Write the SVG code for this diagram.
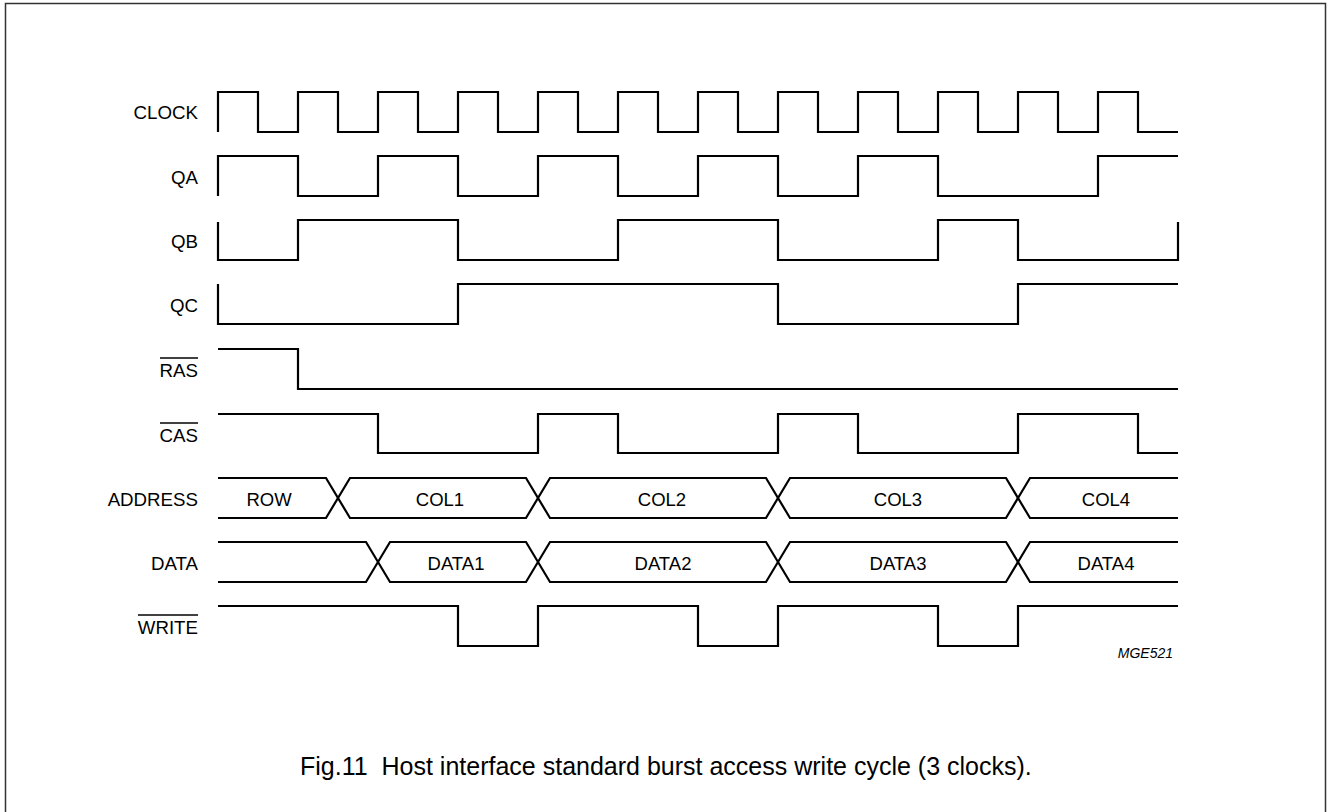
<svg xmlns="http://www.w3.org/2000/svg" width="1327" height="812" viewBox="0 0 1327 812">
<style>
.lbl{font-family:"Liberation Sans",Arial,sans-serif;font-size:18.7px;fill:#000;text-anchor:end}
.bus{font-family:"Liberation Sans",Arial,sans-serif;font-size:18.5px;fill:#000;text-anchor:middle}
.wave{fill:none;stroke:#000;stroke-width:2.2;stroke-linejoin:miter}
.ovl{stroke:#000;stroke-width:1.4}
.cap{font-family:"Liberation Sans",Arial,sans-serif;font-size:25px;fill:#000}
.tag{font-family:"Liberation Sans",Arial,sans-serif;font-size:14px;font-style:italic;fill:#000;text-anchor:end}
</style>
<rect x="0" y="0" width="1327" height="812" fill="#fff"/>
<rect x="5.5" y="3.5" width="1320" height="830" fill="none" stroke="#333" stroke-width="1.5"/>
<g id="clock">
<text class="lbl" x="198" y="119">CLOCK</text>
<path class="wave" d="M218 132 V92 H258 V132 H298 V92 H338 V132 H378 V92 H418 V132 H458 V92 H498 V132 H538 V92 H578 V132 H618 V92 H658 V132 H698 V92 H738 V132 H778 V92 H818 V132 H858 V92 H898 V132 H938 V92 H978 V132 H1018 V92 H1058 V132 H1098 V92 H1138 V132 H1178"/>
</g>
<g id="qa">
<text class="lbl" x="198" y="183.5">QA</text>
<path class="wave" d="M218 196 V156 H298 V196 H378 V156 H458 V196 H538 V156 H618 V196 H698 V156 H778 V196 H858 V156 H938 V196 H1098 V156 H1178"/>
</g>
<g id="qb">
<text class="lbl" x="198" y="247.5">QB</text>
<path class="wave" d="M218 222 V260 H298 V220 H458 V260 H618 V220 H778 V260 H938 V220 H1018 V260 H1178 V222"/>
</g>
<g id="qc">
<text class="lbl" x="198" y="311.5">QC</text>
<path class="wave" d="M218 284 V324 H458 V284 H778 V324 H1018 V284 H1178"/>
</g>
<g id="ras">
<text class="lbl" x="198" y="377">RAS</text>
<line class="ovl" x1="160" y1="358" x2="198" y2="358"/>
<path class="wave" d="M218 349 H298 V389 H1178"/>
</g>
<g id="cas">
<text class="lbl" x="198" y="441.5">CAS</text>
<line class="ovl" x1="160" y1="423" x2="198" y2="423"/>
<path class="wave" d="M218 414 H378 V453 H538 V414 H618 V453 H778 V414 H858 V453 H1018 V414 H1138 V453 H1178"/>
</g>
<g id="address">
<text class="lbl" x="198" y="505.5">ADDRESS</text>
<path class="wave" d="M218 478 H326 L350 518 H526 L550 478 H766 L790 518 H1006 L1030 478 H1178"/>
<path class="wave" d="M218 518 H326 L350 478 H526 L550 518 H766 L790 478 H1006 L1030 518 H1178"/>
<text class="bus" x="269" y="505.5">ROW</text>
<text class="bus" x="440" y="505.5">COL1</text>
<text class="bus" x="662" y="505.5">COL2</text>
<text class="bus" x="898" y="505.5">COL3</text>
<text class="bus" x="1106" y="505.5">COL4</text>
</g>
<g id="data">
<text class="lbl" x="198" y="569.5">DATA</text>
<path class="wave" d="M218 542 H366 L390 582 H526 L550 542 H766 L790 582 H1006 L1030 542 H1178"/>
<path class="wave" d="M218 582 H366 L390 542 H526 L550 582 H766 L790 542 H1006 L1030 582 H1178"/>
<text class="bus" x="456" y="569.5">DATA1</text>
<text class="bus" x="663" y="569.5">DATA2</text>
<text class="bus" x="898" y="569.5">DATA3</text>
<text class="bus" x="1106" y="569.5">DATA4</text>
</g>
<g id="write">
<text class="lbl" x="198" y="634">WRITE</text>
<line class="ovl" x1="138" y1="615" x2="198" y2="615"/>
<path class="wave" d="M218 606 H458 V646 H538 V606 H698 V646 H778 V606 H938 V646 H1018 V606 H1178"/>
</g>
<g id="connectors"></g>
<text class="tag" x="1173" y="658">MGE521</text>
<text class="cap" x="300" y="775" xml:space="preserve">Fig.11  Host interface standard burst access write cycle (3 clocks).</text>
</svg>
